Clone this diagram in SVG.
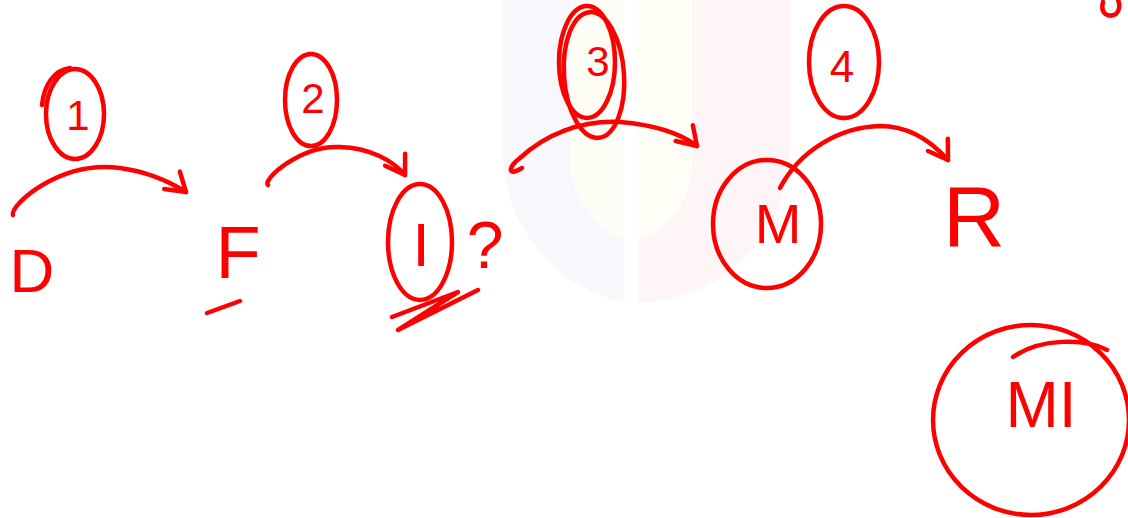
<svg xmlns="http://www.w3.org/2000/svg" width="1128" height="518" viewBox="0 0 1128 518">
<style>
.ink{fill:none;stroke:#ff0000;stroke-width:4.5;stroke-linecap:round;stroke-linejoin:round}
.lbl{fill:#ff0000;font-family:"Liberation Sans",Arial,sans-serif;text-anchor:middle}
</style>
<defs>
<marker id="ah" markerUnits="userSpaceOnUse" markerWidth="40" markerHeight="40" refX="0" refY="0" viewBox="-30 -20 40 40" orient="auto" overflow="visible">
<path d="M-16,-14 L0,0 L-20,9" fill="none" stroke="#ff0000" stroke-width="4.5" stroke-linecap="round" stroke-linejoin="round"/>
</marker>
</defs>
<rect width="1128" height="518" fill="#ffffff"/>
<g id="watermark">
<path d="M503,0 V150 A150,153 0 0 0 624,302 V240 A88,88 0 0 1 570,152 V0 Z" fill="#f8f7fb"/>
<path d="M570,0 V152 A88,88 0 0 0 624,240 V0 Z" fill="#fdfdf5"/>
<path d="M638,0 V240 A82,82 0 0 0 692,200 V0 Z" fill="#fefef7"/>
<path d="M692,0 V160 A82,82 0 0 1 638,240 V302 A150,153 0 0 0 790,150 V0 Z" fill="#fef6f6"/>
</g>
<g id="connectors">
<path class="ink" d="M13,215 C10,205 60,160 120,168 C150,172 170,182 186,192" marker-end="url(#ah)"/>
<path class="ink" d="M268,185 C262,180 300,145 340,147 C370,148 392,160 405,175" marker-end="url(#ah)"/>
<path class="ink" d="M522,168 C505,178 510,165 520,158 C545,135 580,120 620,122 C655,125 680,133 697,146" marker-end="url(#ah)"/>
<path class="ink" d="M780,188 C800,150 840,127 880,126 C910,126 932,142 948,160" marker-end="url(#ah)"/>
</g>
<g id="label-1">
<ellipse class="ink" cx="75" cy="114" rx="29" ry="45"/>
<path class="ink" d="M42,105 C44,85 54,70 70,68"/>
<text class="lbl" x="78" y="130" font-size="42">1</text>
</g>
<g id="label-2">
<ellipse class="ink" cx="311" cy="100" rx="26" ry="46"/>
<text class="lbl" x="313" y="113" font-size="42">2</text>
</g>
<g id="label-3">
<ellipse class="ink" cx="587" cy="62" rx="28" ry="56"/>
<ellipse class="ink" cx="594" cy="75" rx="30" ry="63" transform="rotate(-4 594 75)"/>
<text class="lbl" x="598" y="76" font-size="42">3</text>
</g>
<g id="label-4">
<ellipse class="ink" cx="844" cy="62" rx="35" ry="56"/>
<text class="lbl" x="842" y="82" font-size="44">4</text>
</g>
<g id="node-D">
<text class="lbl" x="32" y="292" font-size="62">D</text>
</g>
<g id="node-F">
<text class="lbl" x="238" y="278" font-size="74">F</text>
<path class="ink" d="M207,313 L240,301"/>
</g>
<g id="node-I">
<ellipse class="ink" cx="420" cy="242" rx="32" ry="58"/>
<text class="lbl" x="421" y="266" font-size="62">I</text>
<path class="ink" d="M392,317 L458,292 L398,330 L478,290"/>
<text class="lbl" x="485" y="268" font-size="66">?</text>
</g>
<g id="node-M">
<ellipse class="ink" cx="767" cy="224" rx="54" ry="64"/>
<text class="lbl" x="778" y="243" font-size="56">M</text>
</g>
<g id="node-R">
<text class="lbl" x="974" y="246" font-size="86">R</text>
</g>
<g id="node-MI">
<ellipse class="ink" cx="1031" cy="420" rx="98" ry="95"/>
<path class="ink" d="M1013,357 C1040,338 1085,338 1107,350"/>
<text class="lbl" x="1041" y="427" font-size="64">MI</text>
</g>
<path class="ink" d="M1103,2 C1100,14 1108,18 1116,14 C1120,10 1120,4 1118,0"/>
</svg>
